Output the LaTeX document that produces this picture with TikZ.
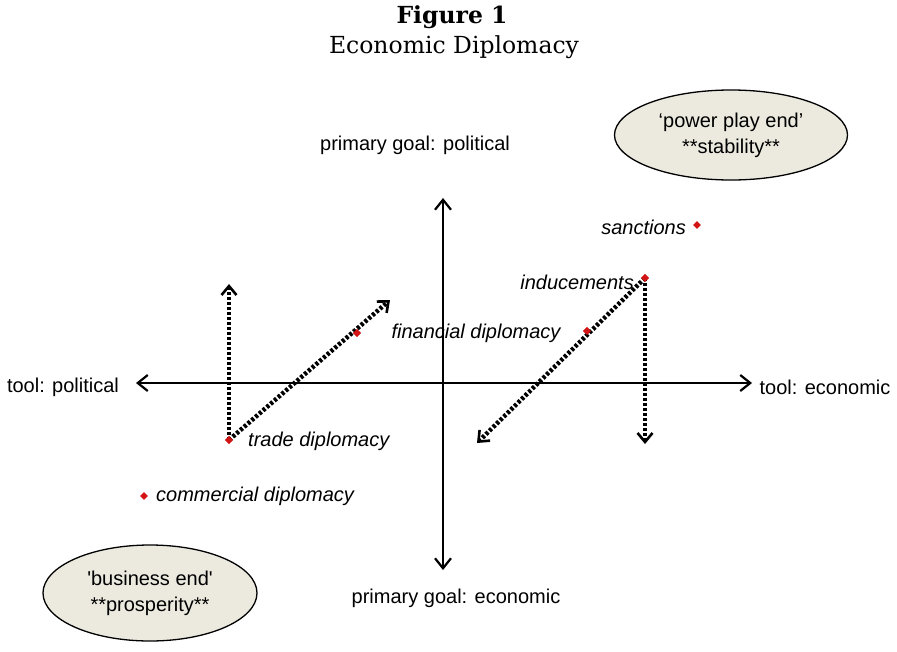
\documentclass[tikz,border=0pt]{standalone}
\usepackage{fontspec}
\setmainfont{Liberation Sans}
\newfontfamily\titlefont{DejaVu Serif}
\usetikzlibrary{arrows.meta,shapes.geometric}
\definecolor{ellfill}{RGB}{236,234,223}
\definecolor{dotred}{RGB}{210,20,20}
\tikzset{
  axis/.style={line width=2.2pt,{Straight Barb[length=10pt,width=16pt,line width=2.2pt]}-{Straight Barb[length=10pt,width=16pt,line width=2.2pt]}},
  dotarrow/.style={line width=4.5pt,dash pattern=on 3pt off 2pt,-{Straight Barb[length=9pt,width=15pt,line width=2.6pt]}},
  lbl/.style={font=\fontsize{20}{24}\selectfont,inner sep=0pt},
  ilbl/.style={font=\fontsize{20}{24}\selectfont\itshape,inner sep=0pt},
  dmd/.style={diamond,fill=dotred,minimum size=8pt,inner sep=0pt},
  endell/.style={ellipse,draw,line width=1.3pt,fill=ellfill,minimum width=#1,inner sep=0pt,align=center,font=\fontsize{20}{26}\selectfont}
}
\begin{document}
\begin{tikzpicture}[x=1pt,y=-1pt]
\useasboundingbox (0,0) rectangle (897,651);
\node[font=\titlefont\bfseries\fontsize{23.5}{28}\selectfont,inner sep=0pt] (t1) at (452,17) {Figure 1};
\node[font=\titlefont\fontsize{23.5}{28}\selectfont,inner sep=0pt] (t2) at (454,47) {Economic Diplomacy};
% axes
\coordinate (L) at (136,383);
\coordinate (R) at (752,383);
\coordinate (T) at (443,198);
\coordinate (B) at (443,570);
\draw[axis] (L) -- (R);
\draw[axis] (T) -- (B);
\node[lbl] (pgp) at (415,145) {primary goal: political};
\node[lbl] (pge) at (456,598) {primary goal: economic};
\node[lbl] (tp) at (63,387) {tool: political};
\node[lbl] (te) at (825,387) {tool: economic};
% ellipses
\node[endell=233pt,minimum height=90pt] (pp) at (731,135) {`power play end'\\**stability**};
\node[endell=214pt,minimum height=96pt] (be) at (150,593) {\textquotesingle business end\textquotesingle\\**prosperity**};
% points
\node[dmd] (sanc) at (697,225) {};
\node[ilbl,anchor=east] (sanct) at (686,227) {sanctions};
\node[dmd] (ind) at (645,278) {};
\node[ilbl,anchor=east] (indt) at (634,282) {inducements};
\node[dmd] (fin1) at (357,333) {};
\node[dmd] (fin2) at (587,331) {};
\node[ilbl] (fint) at (476,333) {financial diplomacy};
\node[dmd] (trade) at (229,440) {};
\node[ilbl,anchor=west] (tradet) at (248,441) {trade diplomacy};
\node[dmd] (comm) at (144,496) {};
\node[ilbl,anchor=west] (commt) at (156,496) {commercial diplomacy};
% arrow ends
\coordinate (a1) at (229,284);
\coordinate (a2) at (390,300);
\coordinate (a3) at (477,443);
\coordinate (a4) at (645,444);
\draw[dotarrow] (trade.center) -- (a1);
\draw[dotarrow] (trade.center) -- (a2);
\draw[dotarrow] (ind.center) -- (a3);
\draw[dotarrow] (ind.center) -- (a4);
\node[dmd] at (trade) {};
\node[dmd] at (ind) {};
\node[dmd] at (fin1) {};
\node[dmd] at (fin2) {};
\end{tikzpicture}
\end{document}
